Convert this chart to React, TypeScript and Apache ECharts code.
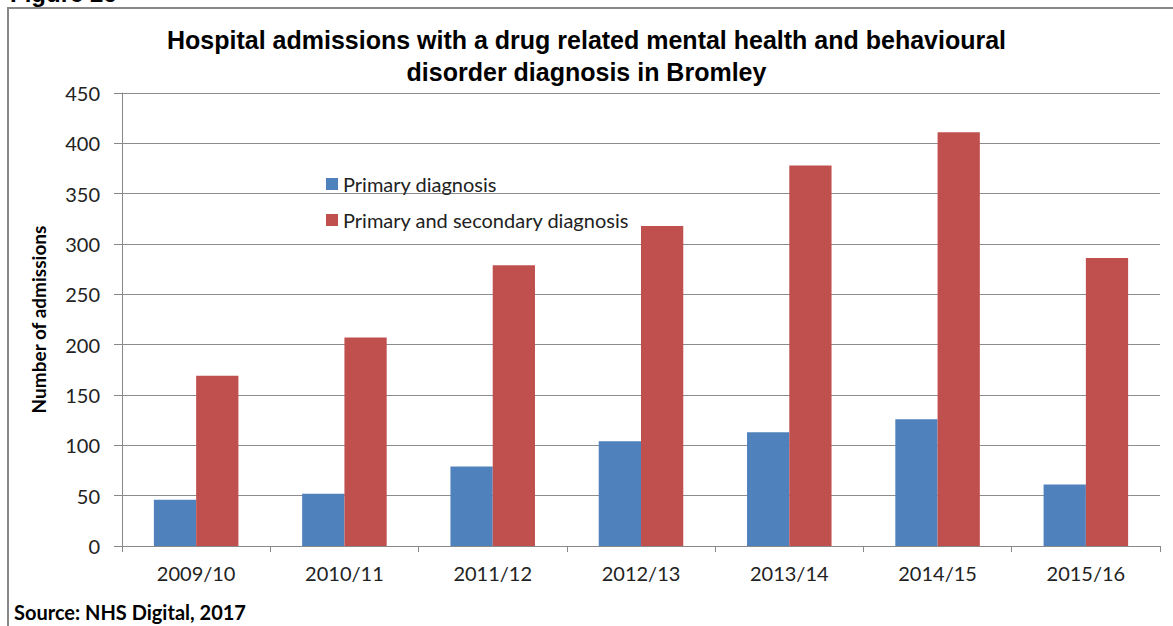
import React, { useEffect, useRef } from "react";
import * as echarts from "echarts";

const categories = ["2009/10", "2010/11", "2011/12", "2012/13", "2013/14", "2014/15", "2015/16"];
const primary = [46, 52, 79, 104, 113, 126, 61];
const primaryAndSecondary = [169, 207, 279, 318, 378, 411, 286];
const seriesNames = ["Primary diagnosis", "Primary and secondary diagnosis"];
const titleText = "Hospital admissions with a drug related mental health and behavioural\ndisorder diagnosis in Bromley";
const yAxisName = "Number of admissions";
const sourceText = "Source: NHS Digital, 2017";
const figureText = "Figure 26";

export default function App() {
  const ref = useRef<HTMLDivElement>(null);
  useEffect(() => {
    document.body.style.margin = "0";
    const chart = echarts.init(ref.current!, null, { renderer: "svg" });
    const font = "Lato, 'Open Sans', sans-serif";
    chart.setOption({
      animation: false,
      backgroundColor: "#ffffff",
      title: {
        text: titleText,
        left: "center",
        top: 19,
        textStyle: {
          fontFamily: "'Liberation Sans', Arial, sans-serif",
          fontWeight: "bold",
          fontSize: 25,
          lineHeight: 32,
          color: "#000000",
        },
      },
      legend: {
        orient: "vertical",
        left: 321,
        top: 169,
        itemWidth: 12,
        itemHeight: 12,
        itemGap: 16,
        icon: "rect",
        textStyle: { fontFamily: font, fontSize: 20, color: "#222222" },
        data: seriesNames,
      },
      grid: { left: 122, right: 13, top: 93, bottom: 80 },
      xAxis: {
        type: "category",
        data: categories,
        axisLine: { lineStyle: { color: "#888888", width: 1 } },
        axisTick: { show: true, length: 6, lineStyle: { color: "#888888" } },
        axisLabel: { fontFamily: font, fontSize: 20, color: "#222222", margin: 17 },
      },
      yAxis: {
        type: "value",
        min: 0,
        max: 450,
        interval: 50,
        name: yAxisName,
        nameLocation: "middle",
        nameGap: 74,
        nameTextStyle: { fontFamily: font, fontSize: 19, fontWeight: "bold", color: "#000000" },
        axisLine: { show: true, lineStyle: { color: "#888888", width: 1 } },
        axisTick: { show: true, length: 8, lineStyle: { color: "#888888" } },
        axisLabel: { fontFamily: font, fontSize: 20, color: "#222222", margin: 22 },
        splitLine: { lineStyle: { color: "#8c8c8c", width: 1 } },
      },
      series: [
        {
          name: seriesNames[0],
          type: "bar",
          data: primary,
          barGap: "0%",
          barCategoryGap: "43%",
          itemStyle: { color: "#4F81BD" },
        },
        {
          name: seriesNames[1],
          type: "bar",
          data: primaryAndSecondary,
          barGap: "0%",
          barCategoryGap: "43%",
          itemStyle: { color: "#C0504D" },
        },
      ],
      graphic: [
        {
          type: "rect",
          shape: { x: 8, y: 8, width: 1200, height: 700 },
          style: { fill: "none", stroke: "#888888", lineWidth: 2 },
          silent: true,
        },
        {
          type: "text",
          x: 10,
          y: 5,
          style: {
            text: figureText,
            fontFamily: "'Liberation Sans', Arial, sans-serif",
            fontWeight: "bold",
            fontSize: 24,
            fill: "#000000",
            verticalAlign: "bottom",
          },
        },
        {
          type: "text",
          x: 14,
          y: 612,
          style: {
            text: sourceText,
            fontFamily: font,
            fontWeight: "bold",
            fontSize: 20,
            fill: "#000000",
            verticalAlign: "middle",
          },
        },
      ],
    });
    return () => chart.dispose();
  }, []);
  return <div ref={ref} style={{ width: 1173, height: 626 }} />;
}
